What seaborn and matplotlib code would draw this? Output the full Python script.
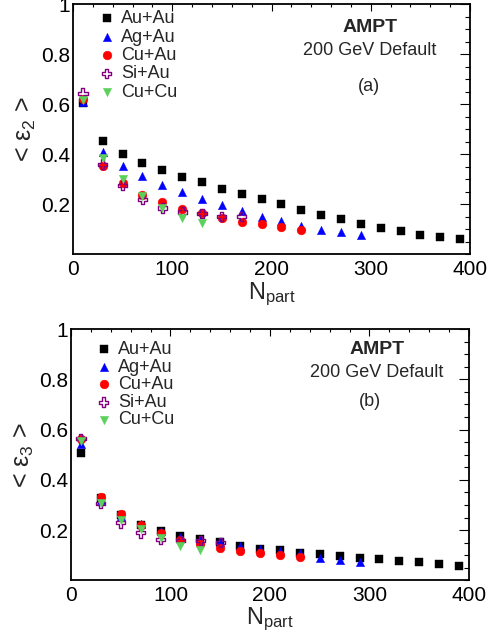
import numpy as np
import matplotlib
matplotlib.use("Agg")
import matplotlib.pyplot as plt
from matplotlib.ticker import FixedLocator, MultipleLocator
import seaborn as sns

# centrality bins (N_part)
npart_auau = [10, 30, 50, 70, 90, 110, 130, 150, 170, 190, 210, 230, 250, 270, 290, 310, 330, 350, 370, 390]
npart_agau = [10, 30, 50, 70, 90, 110, 130, 150, 170, 190, 210, 230, 250, 270, 290]
npart_cuau = [10, 30, 50, 70, 90, 110, 130, 150, 170, 190, 210, 230]
npart_siau_a = [10, 30, 50, 70, 90, 110, 130, 150, 170]
npart_siau_b = [10, 30, 50, 70, 90, 110, 130, 150]
npart_cucu = [10, 30, 50, 70, 90, 110, 130]

# <eps2>
e2_auau = [0.604, 0.451, 0.400, 0.363, 0.337, 0.309, 0.287, 0.261, 0.241, 0.220, 0.199, 0.176, 0.156, 0.139, 0.121, 0.105, 0.091, 0.076, 0.068, 0.060]
e2_agau = [0.610, 0.407, 0.351, 0.311, 0.277, 0.247, 0.220, 0.196, 0.173, 0.149, 0.132, 0.113, 0.097, 0.087, 0.077]
e2_cuau = [0.620, 0.352, 0.285, 0.235, 0.208, 0.180, 0.163, 0.144, 0.128, 0.120, 0.109, 0.097]
e2_siau = [0.644, 0.360, 0.275, 0.220, 0.184, 0.168, 0.163, 0.151, 0.149]
e2_cucu = [0.617, 0.385, 0.300, 0.233, 0.184, 0.144, 0.124]

# <eps3>
e3_auau = [0.509, 0.330, 0.260, 0.220, 0.196, 0.176, 0.163, 0.154, 0.138, 0.127, 0.120, 0.111, 0.105, 0.098, 0.091, 0.085, 0.079, 0.074, 0.066, 0.058]
e3_agau = [0.544, 0.320, 0.255, 0.225, 0.196, 0.172, 0.162, 0.153, 0.136, 0.125, 0.116, 0.108, 0.090, 0.081, 0.073]
e3_cuau = [0.564, 0.332, 0.266, 0.221, 0.189, 0.160, 0.144, 0.128, 0.119, 0.109, 0.103, 0.093]
e3_siau = [0.564, 0.305, 0.229, 0.189, 0.163, 0.160, 0.160, 0.152]
e3_cucu = [0.555, 0.310, 0.242, 0.204, 0.170, 0.138, 0.120]

labels = ["Au+Au", "Ag+Au", "Cu+Au", "Si+Au", "Cu+Cu"]
colors = ["black", "#0000ff", "#ff0000", "#800080", "#5bd15b"]
markers = ["s", "^", "o", "P", "v"]
sizes = [26, 36, 40, 44, 36]

sns.set_style("white")
plt.rcParams["font.family"] = ["Liberation Sans", "DejaVu Sans"]
plt.rcParams["mathtext.fontset"] = "custom"
plt.rcParams["mathtext.rm"] = "Liberation Sans"
plt.rcParams["mathtext.it"] = "Liberation Sans:italic"

fig = plt.figure(figsize=(4.95, 6.39), dpi=100)
ax_a = fig.add_axes([0.1475, 0.6025, 0.802, 0.391])
ax_b = fig.add_axes([0.1434, 0.0916, 0.804, 0.3934])


def draw_panel(ax, xs, ys, ylab, tag, leg_anchor, leg_space, txt_pos):
    for i in range(5):
        sns.scatterplot(x=xs[i], y=ys[i], ax=ax, marker=markers[i], s=sizes[i],
                        color=colors[i], edgecolor=colors[i], linewidth=0.3,
                        label=labels[i], zorder=3 + i)
        if markers[i] == "P":
            # open cross
            coll = ax.collections[-1]
            coll.set_facecolor("none")
            coll.set_edgecolor(colors[i])
            coll.set_linewidth(1.0)
    ax.set_xlim(0, 400)
    ax.set_ylim(0, 1)
    ax.xaxis.set_major_locator(MultipleLocator(100))
    ax.xaxis.set_minor_locator(MultipleLocator(20))
    ax.yaxis.set_major_locator(FixedLocator([0.2, 0.4, 0.6, 0.8, 1.0]))
    ax.set_yticklabels(["0.2", "0.4", "0.6", "0.8", "1"])
    ax.yaxis.set_minor_locator(MultipleLocator(0.05))
    ax.tick_params(axis="both", which="both", direction="in", top=True, right=True,
                   width=0.8, colors="black", labelsize=15)
    ax.tick_params(axis="x", which="major", length=5, pad=4)
    ax.tick_params(axis="x", which="minor", length=2.5)
    ax.tick_params(axis="y", which="major", length=7, pad=2)
    ax.tick_params(axis="y", which="minor", length=3.5)
    for sp in ax.spines.values():
        sp.set_linewidth(1.3)
        sp.set_color("black")
    ax.set_xlabel(r"N$_{\mathrm{part}}$", fontsize=17, va="top")
    ax.xaxis.set_label_coords(0.5, txt_pos[3])
    ax.set_ylabel("< ε$_{%s}$ >" % ylab, fontsize=18, va="center")
    ax.yaxis.set_label_coords(-0.118, 0.5)
    ax.legend(loc="upper left", bbox_to_anchor=leg_anchor, frameon=False, fontsize=13,
              borderaxespad=0, borderpad=0, handlelength=1.0, handletextpad=0.3,
              labelspacing=leg_space)
    tx = txt_pos[0]
    ax.text(tx, txt_pos[1][0], "AMPT", transform=ax.transAxes, fontsize=14,
            fontweight="bold", ha="center", va="center")
    ax.text(tx, txt_pos[1][1], "200 GeV Default", transform=ax.transAxes, fontsize=13,
            ha="center", va="center")
    ax.text(txt_pos[2], txt_pos[1][2], tag, transform=ax.transAxes, fontsize=13,
            ha="center", va="center")


draw_panel(ax_a,
           [npart_auau, npart_agau, npart_cuau, npart_siau_a, npart_cucu],
           [e2_auau, e2_agau, e2_cuau, e2_siau, e2_cucu],
           "2", "(a)", (0.062, 0.976), 0.08,
           (0.748, (0.908, 0.816, 0.672), 0.746, -0.108))
draw_panel(ax_b,
           [npart_auau, npart_agau, npart_cuau, npart_siau_b, npart_cucu],
           [e3_auau, e3_agau, e3_cuau, e3_siau, e3_cucu],
           "3", "(b)", (0.06, 0.952), 0.03,
           (0.768, (0.917, 0.829, 0.71), 0.751, -0.1))

fig.savefig("out.png", dpi=100)
